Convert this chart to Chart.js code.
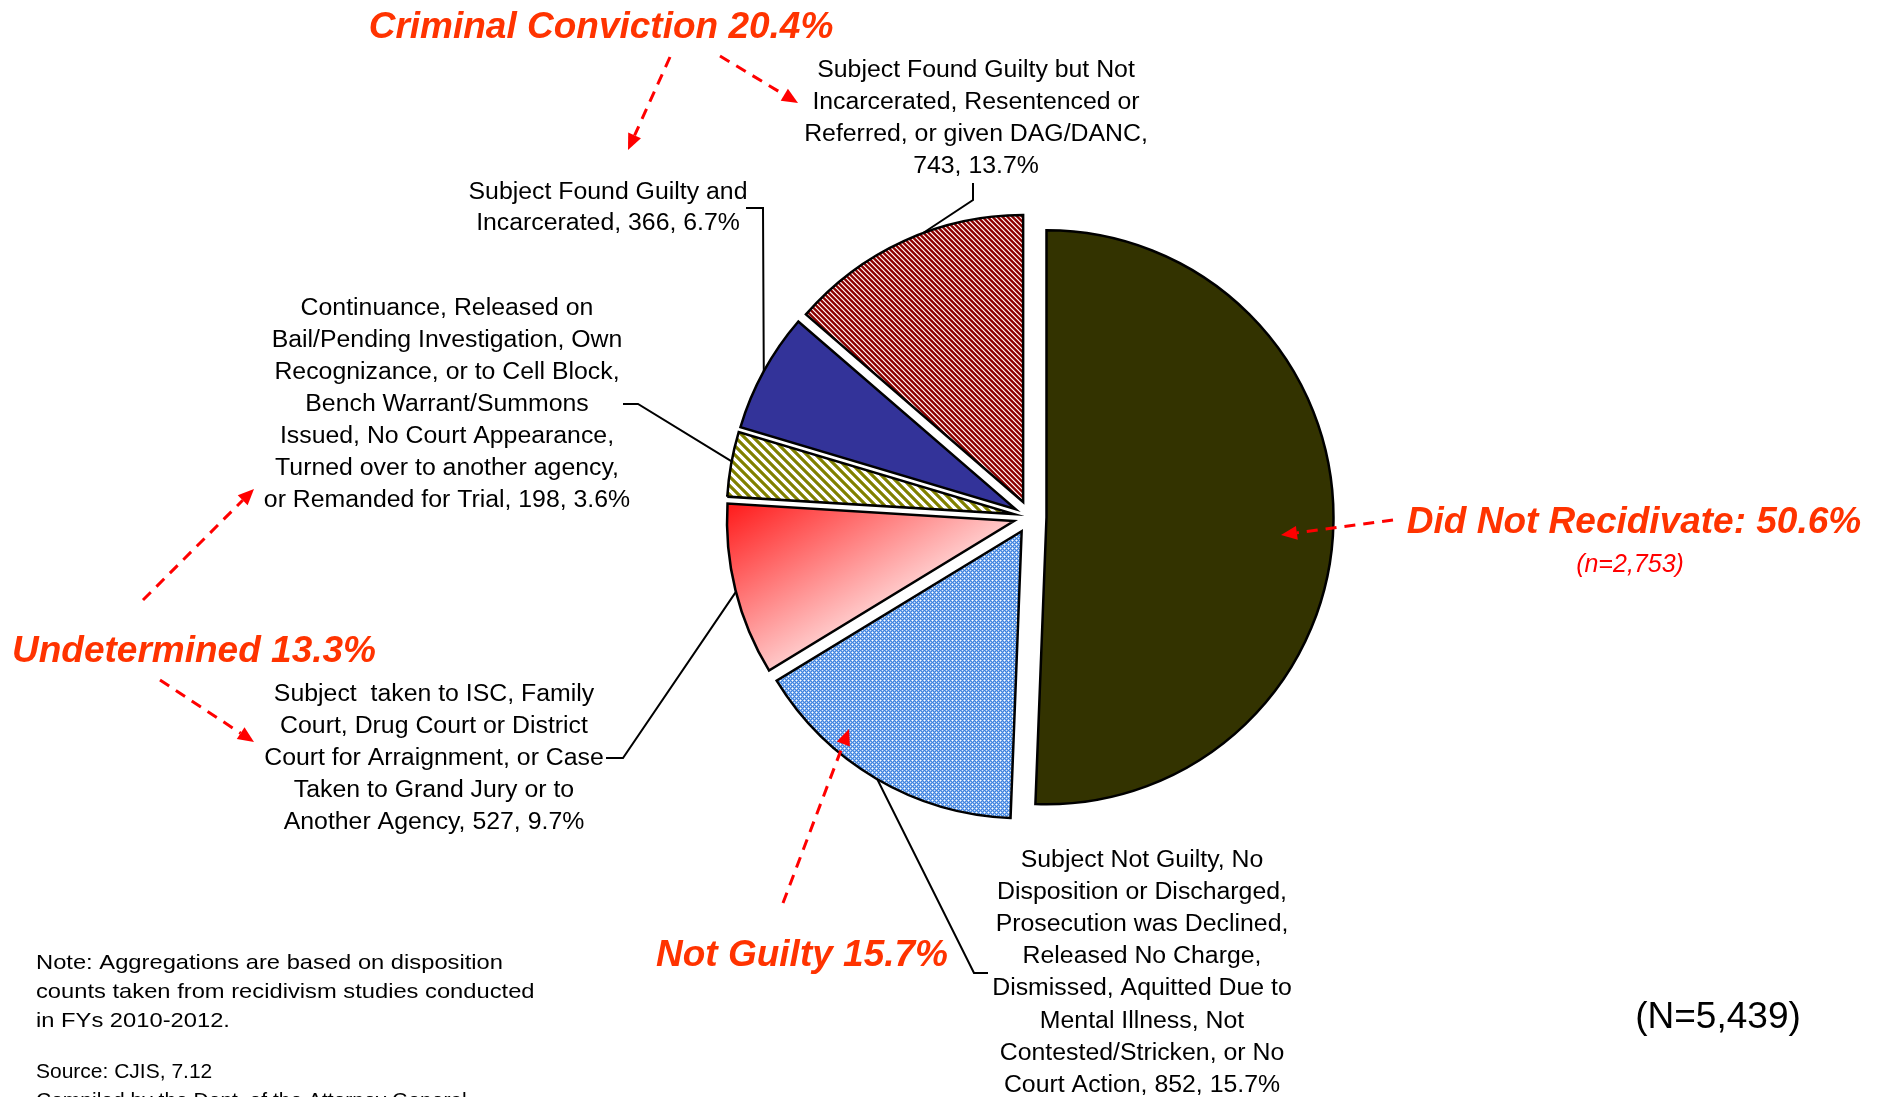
<!DOCTYPE html>
<html>
<head>
<meta charset="utf-8">
<script src="https://cdn.jsdelivr.net/npm/chart.js@4.4.1/dist/chart.umd.min.js"></script>
<style>
html,body{margin:0;padding:0;background:#ffffff;overflow:hidden}
#wrap{width:1885px;height:1097px;position:relative}
</style>
</head>
<body>
<div id="wrap"><canvas id="c" width="1885" height="1097"></canvas></div>
<script>
// ---------------- DATA ----------------
const categories = [
  'Did Not Recidivate',
  'Subject Not Guilty, No Disposition or Discharged, Prosecution was Declined, Released No Charge, Dismissed, Aquitted Due to Mental Illness, Not Contested/Stricken, or No Court Action',
  'Subject taken to ISC, Family Court, Drug Court or District Court for Arraignment, or Case Taken to Grand Jury or to Another Agency',
  'Continuance, Released on Bail/Pending Investigation, Own Recognizance, or to Cell Block, Bench Warrant/Summons Issued, No Court Appearance, Turned over to another agency, or Remanded for Trial',
  'Subject Found Guilty and Incarcerated',
  'Subject Found Guilty but Not Incarcerated, Resentenced or Referred, or given DAG/DANC'
];
const counts = [2753, 852, 527, 198, 366, 743];

const labelLines = [
  [],
  ['Subject Not Guilty, No', 'Disposition or Discharged,', 'Prosecution was Declined,', 'Released No Charge,', 'Dismissed, Aquitted Due to', 'Mental Illness, Not', 'Contested/Stricken, or No', 'Court Action, '],
  ['Subject  taken to ISC, Family', 'Court, Drug Court or District', 'Court for Arraignment, or Case', 'Taken to Grand Jury or to', 'Another Agency, '],
  ['Continuance, Released on', 'Bail/Pending Investigation, Own', 'Recognizance, or to Cell Block,', 'Bench Warrant/Summons', 'Issued, No Court Appearance,', 'Turned over to another agency,', 'or Remanded for Trial, '],
  ['Subject Found Guilty and', 'Incarcerated, '],
  ['Subject Found Guilty but Not', 'Incarcerated, Resentenced or', 'Referred, or given DAG/DANC,', '']
];

const groupNames = ['Did Not Recidivate', 'Not Guilty', 'Undetermined', 'Criminal Conviction'];
const groupMembers = [[0], [1], [2, 3], [4, 5]];
const groupSeparators = [': ', ' ', ' ', ' '];

const noteLines = ['Note: Aggregations are based on disposition', 'counts taken from recidivism studies conducted', 'in FYs 2010-2012.'];
const sourceLines = ['Source: CJIS, 7.12', 'Compiled by the Dept. of the Attorney General'];

// ---------------- HELPERS ----------------
const total = counts.reduce((a, b) => a + b, 0);
const fmtN = v => v.toLocaleString('en-US');
const pct = v => (v / total * 100).toFixed(1) + '%';

// ---------------- LAYOUT / STYLE ----------------
const EXPLODE = 16.5;
const RADIUS = 287;
const LABEL_FONT = '23px "Liberation Sans", Arial, sans-serif';
const LABEL_SX = 1.08;
const RED_FONT = 'italic bold 37px "Liberation Sans", Arial, sans-serif';
const RED = '#ff3300';

const blocks = {
  1: {cx: 1142, y0: 858, dy: 32.2, stub: [[988, 973], [974, 973]], angle: 120.2},
  2: {cx: 434, y0: 692.5, dy: 32.1, stub: [[606, 758], [623, 758]], angle: 165.7},
  3: {cx: 447, y0: 306, dy: 32.1, stub: [[623, 404], [638, 404]], angle: 190.6},
  4: {cx: 608, y0: 190, dy: 31, stub: [[746, 208], [763, 208]], angle: 208.7},
  5: {cx: 976, y0: 68, dy: 32, stub: [[973, 183], [973, 200]], angle: 249.6}
};
const groupPos = [
  {x: 1634, y: 533, sub: {x: 1630, y: 572}},
  {x: 802, y: 966},
  {x: 194, y: 662},
  {x: 601, y: 38}
];
const arrows = [
  [670, 57, 628, 150], [720, 56, 798, 103],
  [143, 600, 254, 489], [160, 680, 254, 742],
  [783, 903, 849, 729],
  [1393, 520, 1281, 535]
];

// ---------------- PATTERNS ----------------
const mainCanvas = document.getElementById('c');
const mainCtx = mainCanvas.getContext('2d');
function hex(h) { return [parseInt(h.substr(1, 2), 16), parseInt(h.substr(3, 2), 16), parseInt(h.substr(5, 2), 16)]; }
function makePattern(size, fn) {
  const c = document.createElement('canvas');
  c.width = size; c.height = size;
  const x = c.getContext('2d');
  const img = x.createImageData(size, size);
  for (let j = 0; j < size; j++) for (let i = 0; i < size; i++) {
    const col = hex(fn(i, j));
    const k = (j * size + i) * 4;
    img.data[k] = col[0]; img.data[k + 1] = col[1]; img.data[k + 2] = col[2]; img.data[k + 3] = 255;
  }
  x.putImageData(img, 0, 0);
  return mainCtx.createPattern(c, 'repeat');
}
const redHatch = makePattern(5, (i, j) => {
  const d = ((i - j) % 5 + 5) % 5;
  return ['#880000', '#8c0000', '#a83030', '#fff4f4', '#c27070'][d];
});
const oliveHatch = makePattern(9, (i, j) => {
  const d = ((i - j) % 9 + 9) % 9;
  return ['#808000', '#808000', '#808000', '#a3a340', '#ffffff', '#ffffff', '#ffffff', '#ffffff', '#a3a340'][d];
});
const blueCross = makePattern(4, (i, j) => {
  const t = [
    ['#ffffff', '#a9c9f2', '#3f83e0', '#a9c9f2'],
    ['#a9c9f2', '#3f83e0', '#70a3e8', '#3f83e0'],
    ['#3f83e0', '#70a3e8', '#d8e7fa', '#70a3e8'],
    ['#a9c9f2', '#3f83e0', '#70a3e8', '#3f83e0']
  ];
  return t[j][i];
});
function redGradient(context) {
  const chart = context.chart;
  const ca = chart.chartArea;
  if (!ca) return '#ff8080';
  const cx = (ca.left + ca.right) / 2, cy = (ca.top + ca.bottom) / 2;
  const g = chart.ctx.createLinearGradient(cx - 303, cy - 13, cx - 209, cy + 140);
  g.addColorStop(0, '#ff1a1a');
  g.addColorStop(1, '#ffd8d8');
  return g;
}
const fills = ['#333300', blueCross, redGradient, oliveHatch, '#333399', redHatch];

// ---------------- PLUGINS ----------------
const explodePlugin = {
  id: 'explode',
  beforeDatasetsDraw(chart) {
    const ca = chart.chartArea;
    const cx = (ca.left + ca.right) / 2, cy = (ca.top + ca.bottom) / 2;
    chart.getDatasetMeta(0).data.forEach(arc => {
      const mid = (arc.startAngle + arc.endAngle) / 2;
      arc.x = cx + Math.cos(mid) * EXPLODE;
      arc.y = cy + Math.sin(mid) * EXPLODE;
    });
  }
};

function drawText(ctx, s, x, y, font, color, align, sx) {
  ctx.save();
  ctx.font = font;
  ctx.fillStyle = color;
  ctx.textAlign = align || 'center';
  ctx.textBaseline = 'alphabetic';
  ctx.translate(x, y);
  ctx.scale(sx || 1, 1);
  ctx.fillText(s, 0, 0);
  ctx.restore();
}
function drawArrow(ctx, x1, y1, x2, y2) {
  const a = Math.atan2(y2 - y1, x2 - x1);
  const L = 16, W = 7;
  const bx = x2 - Math.cos(a) * L, by = y2 - Math.sin(a) * L;
  ctx.save();
  ctx.strokeStyle = '#ff0000';
  ctx.lineWidth = 3;
  ctx.setLineDash([11, 8]);
  ctx.beginPath(); ctx.moveTo(x1, y1); ctx.lineTo(bx, by); ctx.stroke();
  ctx.setLineDash([]);
  ctx.fillStyle = '#ff0000';
  ctx.beginPath();
  ctx.moveTo(x2, y2);
  ctx.lineTo(bx + Math.sin(a) * W, by - Math.cos(a) * W);
  ctx.lineTo(bx - Math.sin(a) * W, by + Math.cos(a) * W);
  ctx.closePath(); ctx.fill();
  ctx.restore();
}

const annotatePlugin = {
  id: 'annotate',
  afterDatasetsDraw(chart) {
    const ctx = chart.ctx;
    const arcs = chart.getDatasetMeta(0).data;
    // leader lines + slice labels
    Object.keys(blocks).forEach(k => {
      const i = +k, b = blocks[k], arc = arcs[i];
      const a = b.angle * Math.PI / 180;
      const ex = arc.x + Math.cos(a) * arc.outerRadius;
      const ey = arc.y + Math.sin(a) * arc.outerRadius;
      ctx.save();
      ctx.strokeStyle = '#000'; ctx.lineWidth = 2;
      ctx.beginPath();
      ctx.moveTo(b.stub[0][0], b.stub[0][1]);
      ctx.lineTo(b.stub[1][0], b.stub[1][1]);
      ctx.lineTo(ex, ey);
      ctx.stroke();
      ctx.restore();
      const lines = labelLines[i].slice();
      lines[lines.length - 1] += fmtN(counts[i]) + ', ' + pct(counts[i]);
      lines.forEach((s, n) => drawText(ctx, s, b.cx, b.y0 + n * b.dy + 8.5, LABEL_FONT, '#000', 'center', LABEL_SX));
    });
    // group labels
    groupNames.forEach((g, gi) => {
      const sum = groupMembers[gi].reduce((a, i) => a + counts[i], 0);
      const p = groupPos[gi];
      drawText(ctx, g + groupSeparators[gi] + pct(sum), p.x, p.y, RED_FONT, RED, 'center', 1);
      if (p.sub) drawText(ctx, '(n=' + fmtN(sum) + ')', p.sub.x, p.sub.y, 'italic 25px "Liberation Sans", Arial, sans-serif', '#ff0000', 'center', 1);
    });
    arrows.forEach(a => drawArrow(ctx, a[0], a[1], a[2], a[3]));
    // notes
    const noteFont = '21px "Liberation Sans", Arial, sans-serif';
    [969, 998, 1027].forEach((y, n) => drawText(ctx, noteLines[n], 36, y, noteFont, '#000', 'left', 1.13));
    [1078, 1107].forEach((y, n) => drawText(ctx, sourceLines[n], 36, y, noteFont, '#000', 'left', 1.0));
    drawText(ctx, '(N=' + fmtN(total) + ')', 1718, 1028, '37px "Liberation Sans", Arial, sans-serif', '#000', 'center', 1);
  }
};

// ---------------- CHART ----------------
new Chart(mainCanvas, {
  type: 'pie',
  data: {
    labels: categories,
    datasets: [{
      data: counts,
      radius: RADIUS,
      backgroundColor: c => { const f = fills[c.dataIndex]; return typeof f === 'function' ? f(c) : f; },
      borderColor: '#000000',
      borderWidth: 2.5,
      borderJoinStyle: 'miter',
      offset: 0
    }]
  },
  options: {
    responsive: false,
    animation: false,
    events: [],
    layout: {padding: {left: 400, right: 225, top: 100, bottom: 163}},
    plugins: {legend: {display: false}, tooltip: {enabled: false}, title: {display: false}}
  },
  plugins: [explodePlugin, annotatePlugin]
});
</script>
</body>
</html>
